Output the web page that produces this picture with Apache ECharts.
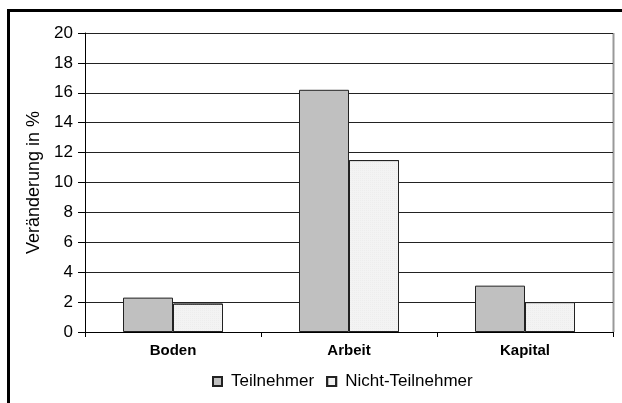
<!DOCTYPE html>
<html>
<head>
<meta charset="utf-8">
<script src="https://cdn.jsdelivr.net/npm/echarts@6/dist/echarts.min.js"></script>
<style>
html, body { margin: 0; padding: 0; background: #fff; }
#chart { width: 622px; height: 403px; }
</style>
</head>
<body>
<div id="chart"></div>
<script>
const categories = ['Boden', 'Arbeit', 'Kapital']
const teilnehmer = [2.3, 16.2, 3.1]
const nichtTeilnehmer = [1.9, 11.5, 2.0]
const yTicks = [0, 2, 4, 6, 8, 10, 12, 14, 16, 18, 20]

const chart = echarts.init(document.getElementById('chart'))

chart.setOption({
	animation: false,
	textStyle: { fontFamily: 'Liberation Sans, Arial, sans-serif', color: '#000' },
	grid: { left: 85, right: 9, top: 33, bottom: 71 },
	graphic: [
		// outer frame, runs off the right and bottom edge
		{ type: 'rect', shape: { x: 8.5, y: 10.5, width: 700, height: 500 },
			style: { fill: null, stroke: '#000', lineWidth: 3 } },
		// grey right edge of plot area
		{ type: 'line', shape: { x1: 613.5, y1: 33, x2: 613.5, y2: 332 },
			style: { stroke: '#999', lineWidth: 2 } },
	],
	legend: {
		bottom: 8,
		left: 207,
		icon: 'rect',
		itemWidth: 9,
		itemHeight: 9,
		itemGap: 12,
		textStyle: {
			fontSize: 17, color: '#000', fontFamily: 'Liberation Sans, Arial, sans-serif',
			padding: [0, 0, 0, 4],
		},
		data: ['Teilnehmer', 'Nicht-Teilnehmer'],
	},
	xAxis: {
		type: 'category',
		data: categories,
		axisLine: { lineStyle: { color: '#000', width: 1 } },
		axisTick: { show: true, length: 5, lineStyle: { color: '#000' } },
		axisLabel: { fontSize: 15, fontWeight: 'bold', color: '#000', margin: 11 },
	},
	yAxis: {
		type: 'value',
		min: 0,
		max: 20,
		interval: 2,
		name: 'Veränderung in %',
		nameLocation: 'middle',
		nameGap: 40,
		nameTextStyle: { fontSize: 18, color: '#000' },
		axisLine: { show: true, lineStyle: { color: '#000' } },
		axisTick: { show: true, length: 7, lineStyle: { color: '#000' } },
		axisLabel: {
			fontSize: 17, color: '#000', margin: 12,
			formatter: v => yTicks.includes(v) ? String(v) : '',
		},
		splitLine: { lineStyle: { color: '#222', width: 1 } },
	},
	series: [
		{
			name: 'Teilnehmer',
			type: 'bar',
			data: teilnehmer,
			barWidth: 50,
			barGap: '0%',
			itemStyle: { color: '#c0c0c0', borderColor: '#222', borderWidth: 1 },
		},
		{
			name: 'Nicht-Teilnehmer',
			type: 'bar',
			data: nichtTeilnehmer,
			barWidth: 50,
			itemStyle: {
				color: '#f3f3f3', borderColor: '#222', borderWidth: 1,
				decal: { symbol: 'rect', symbolSize: 0.5, dashArrayX: [1, 1], dashArrayY: [1, 1], color: '#dcdcdc' },
			},
		},
	],
})
</script>
</body>
</html>
